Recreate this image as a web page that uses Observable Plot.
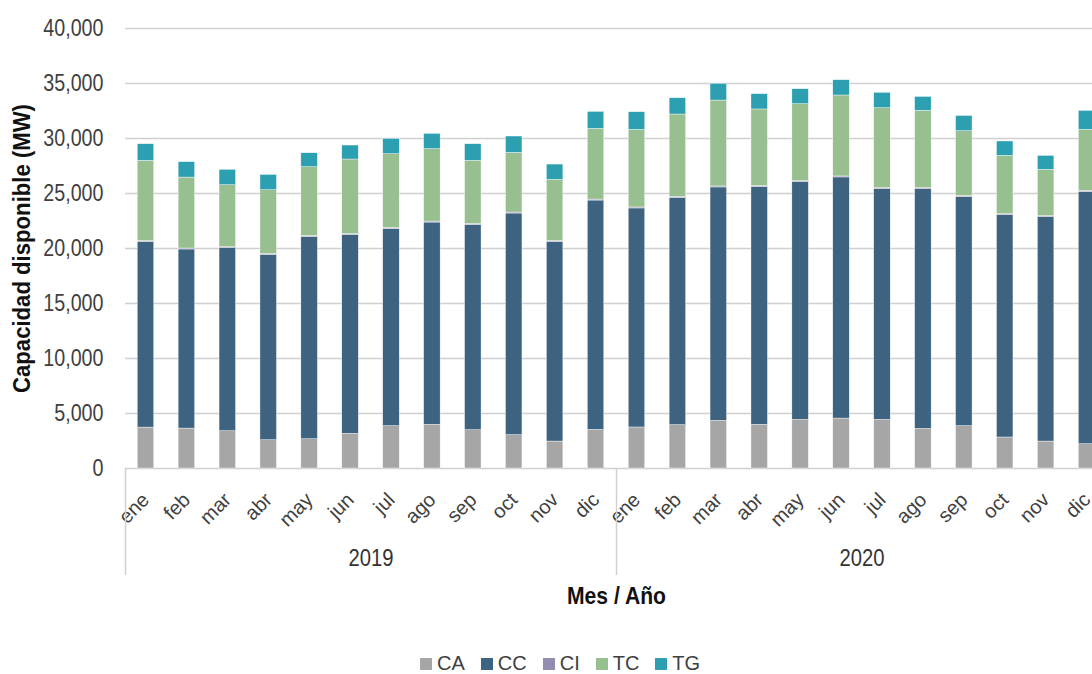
<!DOCTYPE html>
<html>
<head>
<meta charset="utf-8">
<script src="https://cdn.jsdelivr.net/npm/d3@7"></script>
<script src="https://cdn.jsdelivr.net/npm/@observablehq/plot@0.6"></script>
<style>
  html, body { margin: 0; padding: 0; overflow: hidden; background: #fff; }
  #chart { position: relative; width: 1110px; height: 674px; }
  #legend { position: absolute; left: 420px; top: 652px; white-space: nowrap; }
  #legend .lg-swatches { font-family: "Liberation Sans", Arial, sans-serif; font-size: 20px; color: #404040; min-height: 0; margin: 0; }
  #legend .lg-swatch { margin-right: 16px; }
  #legend .lg-swatch > svg { margin-right: 5px; }
</style>
</head>
<body>
<div id="chart"><div id="legend"></div></div>
<script>
const years = ["2019", "2020"];
const months = ["ene", "feb", "mar", "abr", "may", "jun", "jul", "ago", "sep", "oct", "nov", "dic"];
const series = ["CA", "CC", "CI", "TC", "TG"];
const colors = ["#a6a6a6", "#3d6380", "#958db0", "#97bf8f", "#2c9fb0"];
const yTicks = [0, 5000, 10000, 15000, 20000, 25000, 30000, 35000, 40000];

// MW per month, ene-2019 .. dic-2020
const CA = [3720, 3630, 3390, 2570, 2660, 3150, 3850, 3970, 3480, 3030, 2450, 3510,
            3730, 3940, 4330, 3970, 4420, 4540, 4420, 3600, 3850, 2820, 2450, 2210];
const CC = [16880, 16280, 16640, 16850, 18400, 18090, 17940, 18390, 18670, 20150, 18150, 20850,
            19910, 20660, 21220, 21630, 21610, 21920, 20970, 21790, 20840, 20210, 20400, 22940];
const CI = [90, 90, 90, 90, 90, 90, 90, 90, 90, 90, 90, 90,
            90, 90, 90, 90, 90, 90, 90, 90, 90, 90, 90, 90];
const TC = [7280, 6450, 5630, 5790, 6240, 6760, 6690, 6580, 5730, 5420, 5550, 6420,
            7060, 7490, 7810, 6950, 7000, 7360, 7270, 7030, 5880, 5300, 4210, 5550];
const TG = [1510, 1400, 1400, 1390, 1270, 1270, 1390, 1390, 1510, 1490, 1390, 1550,
            1600, 1480, 1520, 1390, 1360, 1390, 1400, 1270, 1390, 1310, 1270, 1720];

const keys = years.flatMap(y => months.map(m => `${y}-${m}`));
const bySerie = {CA, CC, CI, TC, TG};
const data = [];
for (const s of series) keys.forEach((k, i) => data.push({key: k, serie: s, value: bySerie[s][i]}));

const FONT = `"Liberation Sans", Arial, sans-serif`;
const W = 1110, ML = 125, MR = 3, H = 640, MT = 28, MB = 172;
const step = (W - ML - MR) / keys.length;
const barW = 16.5;
const inset = (step - barW) / 2;
const belowAxis = -107 * 40000 / (H - MT - MB); // separator extent below the axis

const plot = Plot.plot({
  width: W, height: H,
  marginLeft: ML, marginRight: MR, marginTop: MT, marginBottom: MB,
  style: {fontFamily: FONT, maxWidth: "none", background: "white", overflow: "visible"},
  x: {domain: keys, padding: 0, round: false, axis: null},
  y: {domain: [0, 40000], axis: null},
  color: {domain: series, range: colors},
  marks: [
    Plot.gridY(yTicks, {stroke: "#d0d0d0", strokeOpacity: 1, strokeWidth: 1.5}),
    Plot.axisY(yTicks, {tickSize: 0, tickPadding: 22, tickFormat: d3.format(","), fontSize: 24, color: "#404040", label: null}),
    Plot.barY(data, {x: "key", y: "value", fill: "serie", insetLeft: inset, insetRight: inset, stroke: "white", strokeWidth: 0.4}),
    Plot.axisX({tickSize: 0, tickPadding: 28, tickRotate: -45, tickFormat: k => k.split("-")[1], fontSize: 20, color: "#404040", label: null}),
    Plot.ruleX(years.map(y => `${y}-ene`), {x: d => d, dx: -step / 2, y1: 0, y2: belowAxis, stroke: "#d0d0d0", strokeWidth: 1.5}),
    Plot.ruleX([`${years[1]}-dic`], {x: d => d, dx: step / 2, y1: 0, y2: belowAxis, stroke: "#d0d0d0", strokeWidth: 1.5}),
    Plot.text(years, {x: y => `${y}-jun`, y: 0, dx: step / 2, dy: 90, text: d => d, fontSize: 24, fill: "#333"}),
    Plot.text(["Mes / Año"], {frameAnchor: "bottom", textAnchor: "middle", lineAnchor: "middle", dy: 128, fontSize: 24, fontWeight: "bold", fill: "#111"}),
    Plot.text(["Capacidad disponible (MW)"], {frameAnchor: "left", textAnchor: "middle", lineAnchor: "middle", rotate: -90, dx: -103, fontSize: 24, fontWeight: "bold", fill: "#111"})
  ]
});
document.getElementById("chart").insertBefore(plot, document.getElementById("legend"));

// Emulate the narrow typeface of the original by compressing glyphs horizontally
// (rotated month labels are left uncompressed so their 45° slant stays true)
const targetLen = {"Capacidad disponible (MW)": 289, "Mes / Año": 99, "2019": 45, "2020": 45};
plot.querySelectorAll("text").forEach(t => {
  const g = t.closest("g[aria-label]");
  if (g && g.getAttribute("aria-label") === "x-axis tick label") return;
  const len = t.getComputedTextLength();
  if (!len) return;
  const txt = t.textContent;
  const L = targetLen[txt] != null ? targetLen[txt] : len * 0.82;
  t.setAttribute("textLength", L.toFixed(1));
  t.setAttribute("lengthAdjust", "spacingAndGlyphs");
});

const legend = Plot.legend({
  color: {domain: series, range: colors},
  swatchWidth: 12,
  swatchHeight: 12,
  className: "lg"
});
document.getElementById("legend").appendChild(legend);
</script>
</body>
</html>
